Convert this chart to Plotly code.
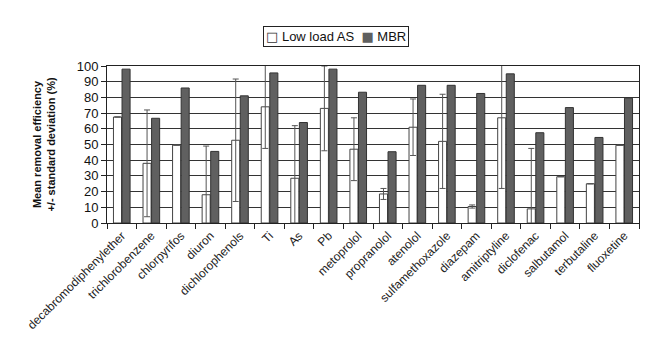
import plotly.graph_objects as go

categories = ["decabromodiphenylether", "trichlorobenzene", "chlorpyrifos", "diuron",
              "dichlorophenols", "Ti", "As", "Pb", "metoprolol", "propranolol", "atenolol",
              "sulfamethoxazole", "diazepam", "amitriptyline", "diclofenac", "salbutamol",
              "terbutaline", "fluoxetine"]
low_load_as = [67.5, 38, 49.6, 18, 52.7, 74, 28.5, 73, 47, 18.5, 61, 52, 10.5, 67, 9, 29.5, 25, 49.5]
low_load_as_sd = [None, 34, None, 31, 39, 26.5, 33.5, 27, 20, 3.5, 18, 30, 1, 45, 38.5, None, None, None]
mbr = [98, 66.7, 86, 45.6, 81, 95.6, 64, 98, 83.3, 45.4, 87.7, 87.7, 82.5, 95, 57.5, 73.5, 54.5, 79.5]
series_names = ["Low load AS", "MBR"]

font_family = "Arial, Liberation Sans, sans-serif"
as_fill, mbr_fill = "white", "#606060"

fig = go.Figure()
fig.add_trace(go.Bar(
    name=series_names[0], x=categories, y=low_load_as,
    marker=dict(color=as_fill, line=dict(color="#444444", width=1)),
    error_y=dict(type="data", array=low_load_as_sd, symmetric=True,
                 color="#555555", thickness=1, width=3),
))
fig.add_trace(go.Bar(
    name=series_names[1], x=categories, y=mbr,
    marker=dict(color=mbr_fill, line=dict(color="#333333", width=1)),
))

legend_text = (
    "<span style='font-family:DejaVu Sans;color:#333'>□</span> " + series_names[0] +
    "  <span style='font-family:DejaVu Sans;color:#606060'>■</span> " + series_names[1]
)

fig.update_layout(
    width=660, height=344,
    margin=dict(l=107, r=21, t=66, b=118),
    paper_bgcolor="white", plot_bgcolor="white",
    font=dict(family=font_family, size=12, color="#111111"),
    barmode="group", bargap=0.42, bargroupgap=0.06,
    showlegend=False,
    annotations=[dict(
        text=legend_text, xref="paper", yref="paper", x=0.43, y=1.256,
        xanchor="center", yanchor="top", showarrow=False,
        font=dict(size=13, family=font_family, color="#111111"),
        bordercolor="#222222", borderwidth=1, borderpad=2, bgcolor="white",
    )],
)
fig.update_yaxes(
    range=[0, 100], dtick=10, ticks="outside", ticklen=5, tickcolor="#222222",
    showline=True, linecolor="#222222", linewidth=1, mirror=True,
    showgrid=True, gridcolor="#333333", gridwidth=1,
    tickfont=dict(size=13, color="#111111"),
    title=dict(text="<b>Mean removal efficiency<br>+/- standard deviation (%)</b>",
               font=dict(size=11, color="#111111"), standoff=18),
    zeroline=False,
)
fig.update_xaxes(
    tickangle=-45, ticks="outside", tickson="boundaries", ticklen=5, tickcolor="#222222",
    showline=True, linecolor="#222222", linewidth=1, mirror=True,
    tickfont=dict(size=12, color="#222222"), showgrid=False,
)

fig.write_html("out.html")
